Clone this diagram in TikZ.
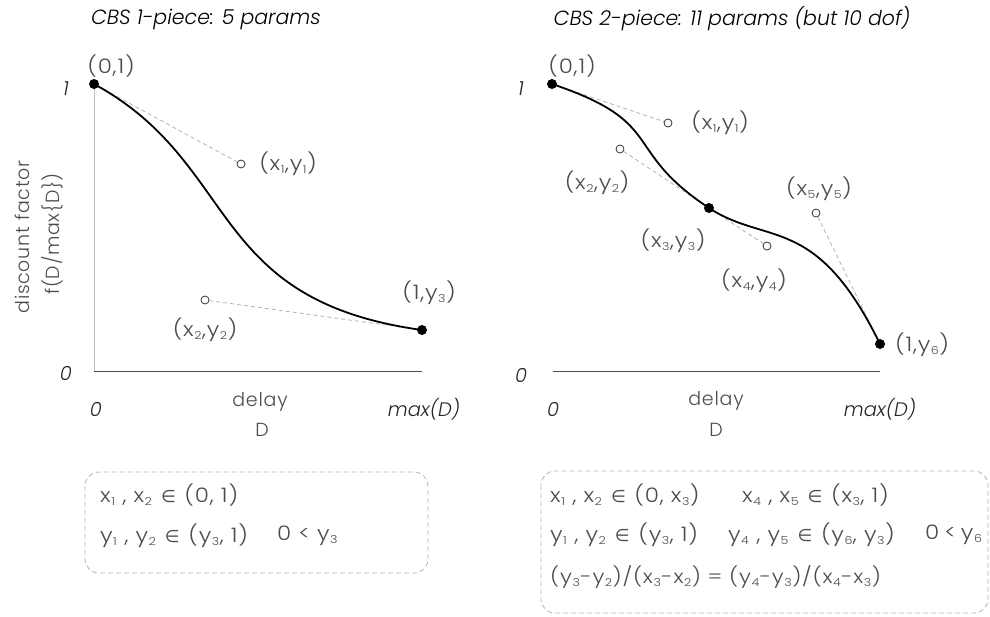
\documentclass[tikz,border=0pt]{standalone}
\usepackage{fontspec}
\setmainfont{Poppins}[UprightFont=* Light, ItalicFont=* Light Italic]
\newfontfamily\lblf{Poppins}[UprightFont=* Light, ItalicFont=* Light Italic, LetterSpace=4]
\newfontfamily\ptf{Poppins}[UprightFont=* Light, ItalicFont=* Light Italic, LetterSpace=4, FakeStretch=1.15]
\newfontfamily\symf{DejaVu Sans}
\usetikzlibrary{backgrounds}
\newcommand\lix[1]{\hspace{0.5pt}\raisebox{-0.25ex}{\fontsize{11}{11}\selectfont #1}\hspace{0.5pt}}
\newcommand\elem{\hspace{1.5pt}{\symf\fontsize{17}{17}\selectfont ∈}\hspace{1.5pt}}
\tikzset{
  lbl/.style={text=black!70, font=\lblf\fontsize{19}{22}\selectfont, inner sep=0},
  ptl/.style={text=black!70, font=\ptf\fontsize{20}{22}\selectfont, inner sep=0},
  ptls/.style={text=black!70, font=\ptf\fontsize{19}{22}\selectfont, inner sep=0},
  ttl/.style={text=black, font=\itshape\fontsize{20.5}{24}\selectfont, inner sep=0},
  axnum/.style={text=black!85, font=\itshape\fontsize{19.5}{22}\selectfont, inner sep=0},
  ctrl/.style={circle, draw=black!80, fill=white, minimum size=8pt, inner sep=0, line width=0.8pt},
  knot/.style={circle, fill=black, minimum size=10pt, inner sep=0},
  guide/.style={draw=black!30, line width=0.8pt, dash pattern=on 4pt off 3pt},
  curve/.style={line width=1.8pt, black},
  cbox/.style={draw=black!30, line width=0.8pt, dash pattern=on 5pt off 3pt, rounded corners=14pt},
  axline/.style={draw=black!70, line width=0.9pt},
  yaxline/.style={draw=black!25, line width=0.9pt}
}
\begin{document}
\begin{tikzpicture}[x=1pt,y=-1pt]
\useasboundingbox (0,0) rectangle (990,616);
% ---------- left plot ----------
\node[ttl] (t1) at (206,19) {CBS 1-piece: 5 params};
\node[knot] (a0) at (94,84) {};
\node[ctrl] (a1) at (241,164) {};
\node[ctrl] (a2) at (205,300) {};
\node[knot] (a3) at (422,330) {};
\coordinate (lo) at (94,371);
\coordinate (lx) at (422,371);
\begin{pgfonlayer}{background}
\draw[yaxline] (a0.center) -- (lo);
\draw[axline] (lo) -- (lx);
\draw[guide] (a0) -- (a1);
\draw[guide] (a2) -- (a3);
\draw[curve] (a0.center) .. controls (a1.center) and (a2.center) .. (a3.center);
\end{pgfonlayer}
\node[ptl] (la0) at (111,66) {(0,1)};
\node[ptl] (la1) at (288,164) {(x\lix{1},y\lix{1})};
\node[ptl] (la2) at (205,330) {(x\lix{2},y\lix{2})};
\node[ptl] (la3) at (429,293) {(1,y\lix{3})};
\node[axnum] (ly1) at (66,89) {1};
\node[axnum] (ly0) at (66,373) {0};
\node[axnum] (lx0) at (96,409) {0};
\node[axnum] (lxm) at (424,409) {max(D)};
\node[lbl] (ld1) at (260,402) {delay};
\node[lbl] (ld2) at (262,430) {D};
\node[lbl, rotate=90] (yl1) at (22,237) {discount factor};
\node[lbl, rotate=90] (yl2) at (52,234) {f(D/max\{D\})};
% ---------- right plot ----------
\node[ttl] (t2) at (732,19) {CBS 2-piece: 11 params (but 10 dof)};
\node[knot] (b0) at (552,84) {};
\node[ctrl] (b1) at (668,123) {};
\node[ctrl] (b2) at (620,149) {};
\node[knot] (b3) at (709,208) {};
\node[ctrl] (b4) at (767,246) {};
\node[ctrl] (b5) at (816,213) {};
\node[knot] (b6) at (880,344) {};
\coordinate (ro) at (553,371);
\coordinate (rx) at (880,371);
\begin{pgfonlayer}{background}
\draw[axline] (ro) -- (rx);
\draw[guide] (b0) -- (b1);
\draw[guide] (b2) -- (b3);
\draw[guide] (b3) -- (b4);
\draw[guide] (b5) -- (b6);
\draw[curve] (b0.center) .. controls (b1.center) and (b2.center) .. (b3.center)
  .. controls (b4.center) and (b5.center) .. (b6.center);
\end{pgfonlayer}
\node[ptl] (lb0) at (572,66) {(0,1)};
\node[ptl] (lb1) at (720,123) {(x\lix{1},y\lix{1})};
\node[ptl] (lb2) at (597,183) {(x\lix{2},y\lix{2})};
\node[ptl] (lb3) at (673,241) {(x\lix{3},y\lix{3})};
\node[ptl] (lb4) at (754,281) {(x\lix{4},y\lix{4})};
\node[ptl] (lb5) at (819,189) {(x\lix{5},y\lix{5})};
\node[ptl] (lb6) at (922,345) {(1,y\lix{6})};
\node[axnum] (ry1) at (521,89) {1};
\node[axnum] (ry0) at (521,375) {0};
\node[axnum] (rx0) at (553,409) {0};
\node[axnum] (rxm) at (880,409) {max(D)};
\node[lbl] (rd1) at (716,401) {delay};
\node[lbl] (rd2) at (716,430) {D};
% ---------- constraint boxes ----------
\draw[cbox] (85,472) rectangle (428,573);
\node[ptl, anchor=west] (c1) at (100,495) {x\lix{1} , x\lix{2} \elem{} (0, 1)};
\node[ptl, anchor=west] (c2) at (100,536) {y\lix{1} , y\lix{2} \elem{} (y\lix{3}, 1)};
\node[ptl, anchor=west] (c3) at (277,536) {0 < y\lix{3}};
\draw[cbox] (541,471) rectangle (988,613);
\node[ptl, anchor=west] (d1) at (550,495) {x\lix{1} , x\lix{2} \elem{} (0, x\lix{3})};
\node[ptl, anchor=west] (d2) at (742,495) {x\lix{4} , x\lix{5} \elem{} (x\lix{3}, 1)};
\node[ptl, anchor=west] (d3) at (550,535) {y\lix{1} , y\lix{2} \elem{} (y\lix{3}, 1)};
\node[ptl, anchor=west] (d4) at (728,535) {y\lix{4} , y\lix{5} \elem{} (y\lix{6}, y\lix{3})};
\node[ptl, anchor=west] (d5) at (925,535) {0\hspace{5pt}<\hspace{5pt}y\lix{6}};
\node[ptls, anchor=west] (d6) at (550,577) {(y\lix{3}-y\lix{2})/(x\lix{3}-x\lix{2}) = (y\lix{4}-y\lix{3})/(x\lix{4}-x\lix{3})};
\end{tikzpicture}
\end{document}
